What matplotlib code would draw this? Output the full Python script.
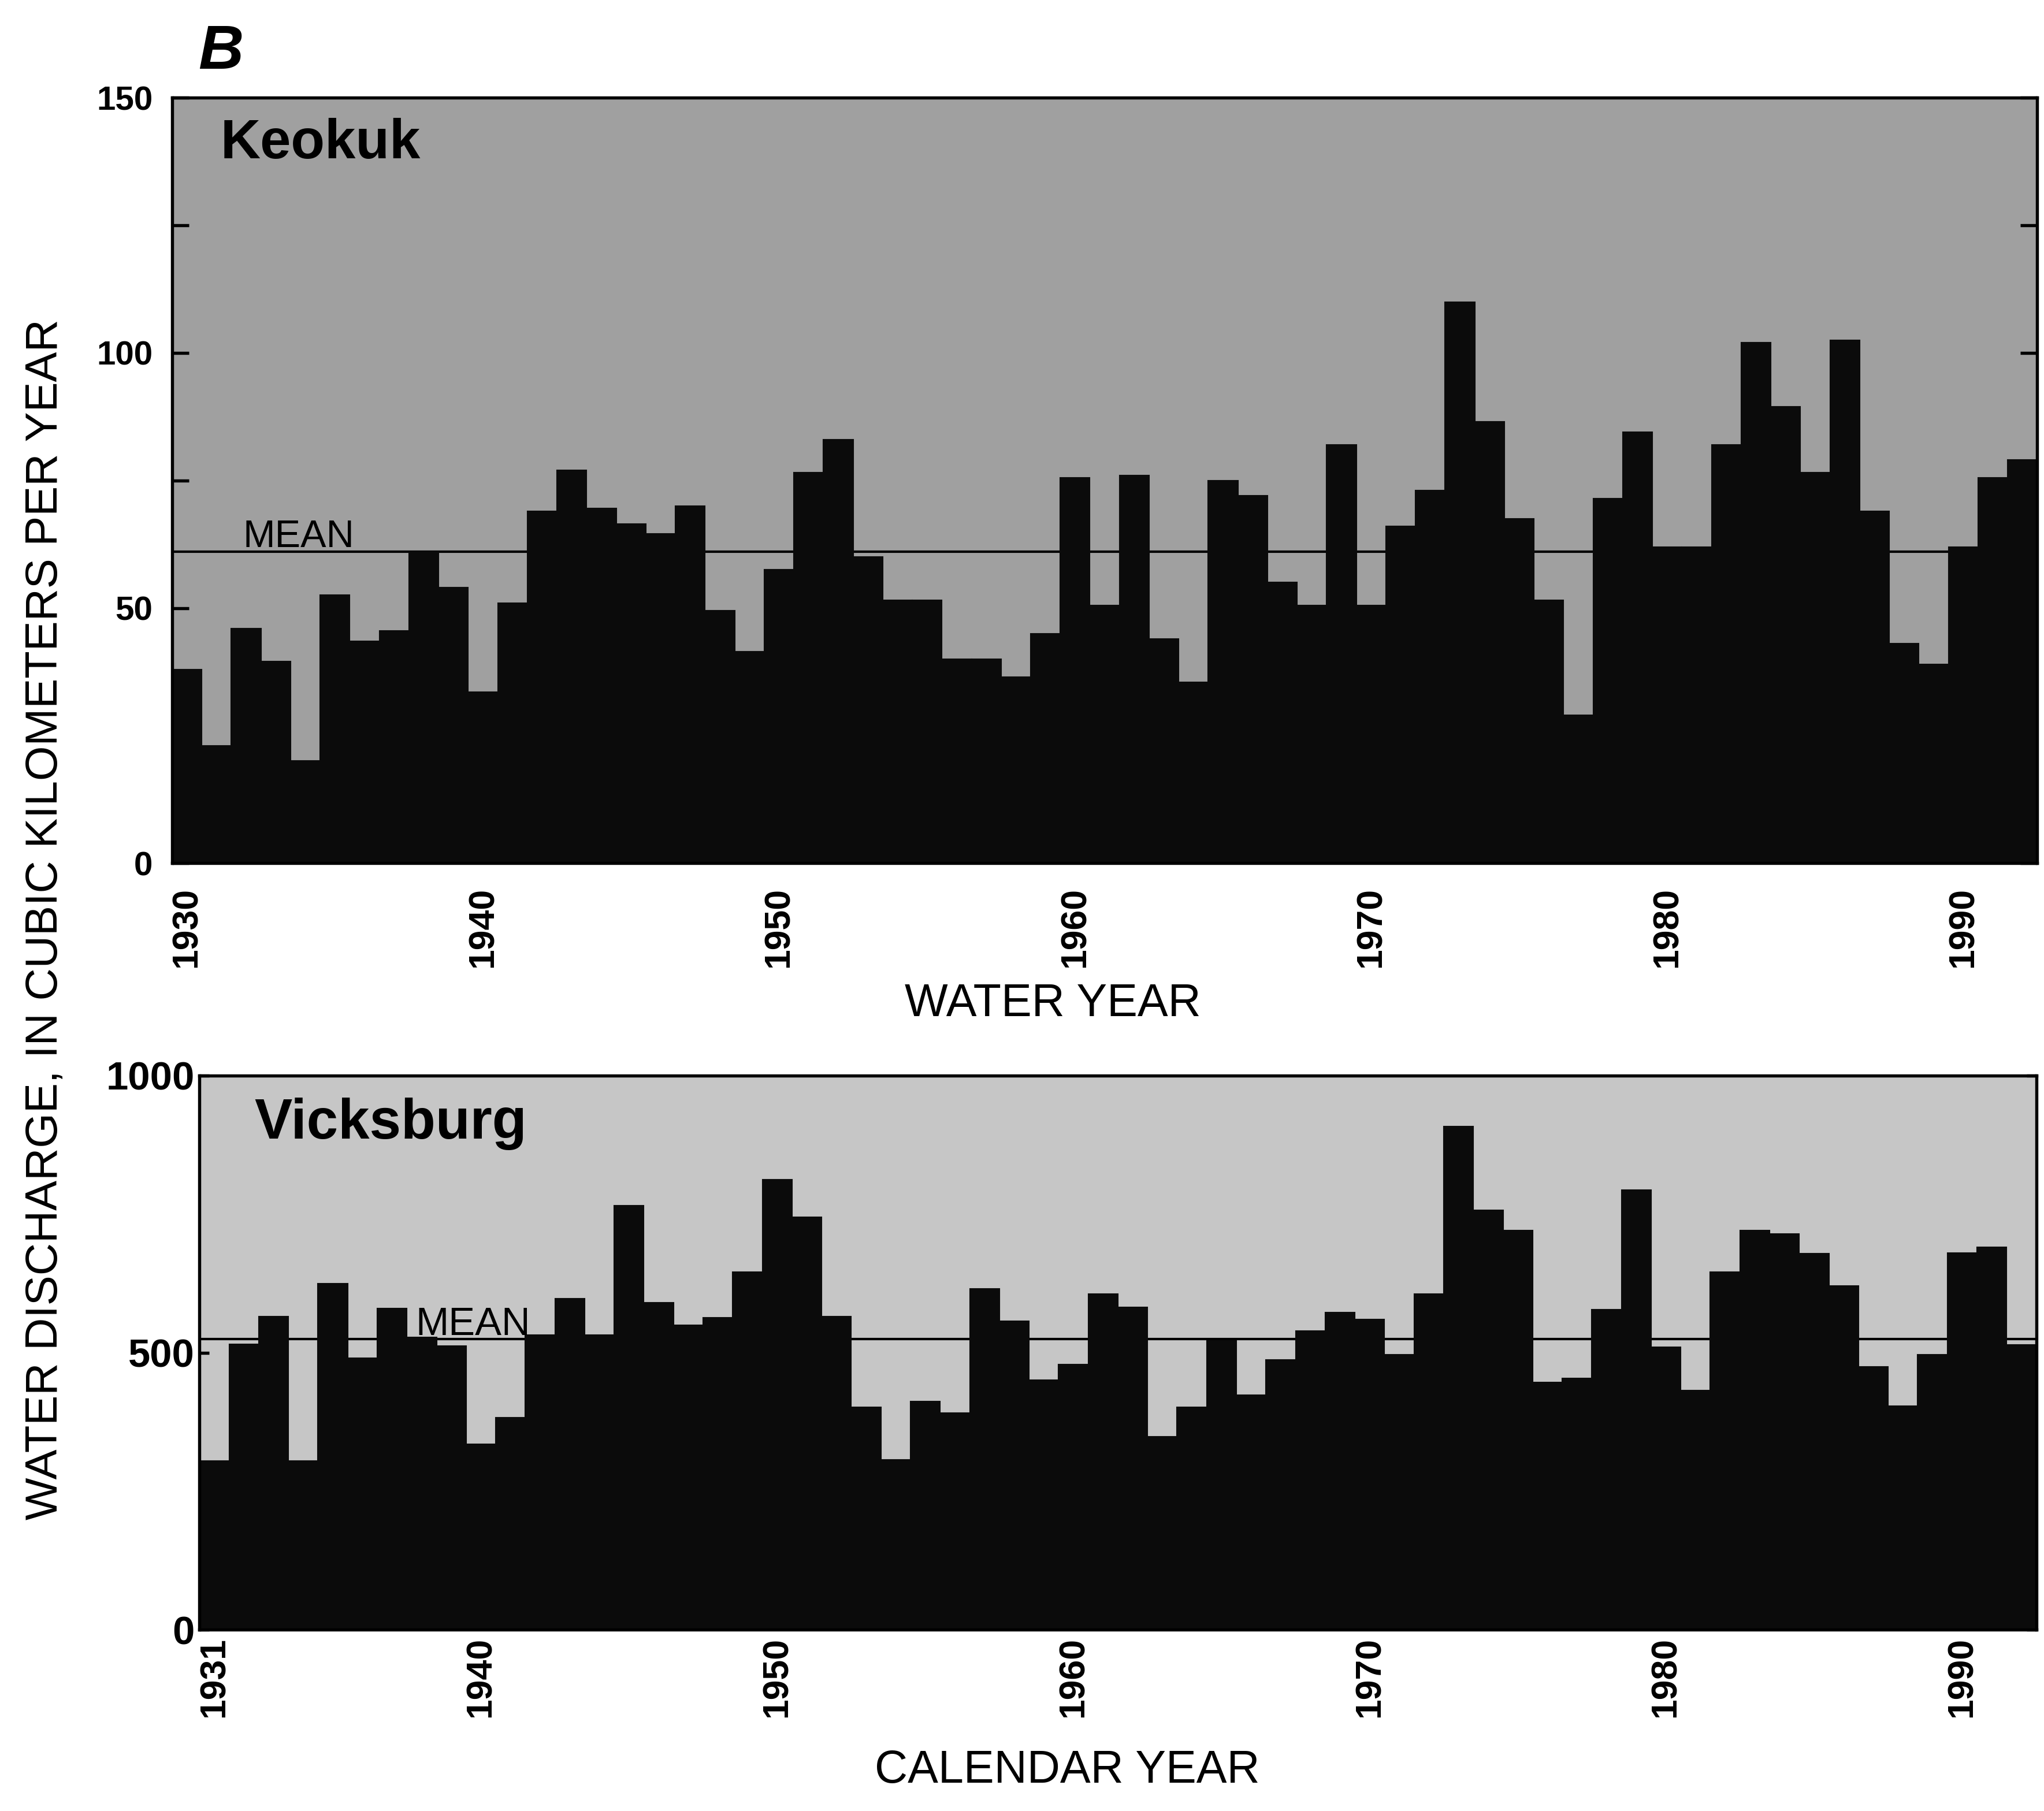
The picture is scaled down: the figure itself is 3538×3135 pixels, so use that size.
import matplotlib
matplotlib.use("Agg")
import matplotlib.pyplot as plt

plt.rcParams['font.family'] = ['Liberation Sans', 'DejaVu Sans']

# --- data ---
keokuk_years = list(range(1930, 1993))
keokuk_flow = [38, 23, 46, 39.5, 20, 52.5, 43.5, 45.5, 61, 54,
               33.5, 51, 69, 77, 69.5, 66.5, 64.5, 70, 49.5, 41.5,
               57.5, 76.5, 83, 60, 51.5, 51.5, 40, 40, 36.5, 45,
               75.5, 50.5, 76, 44, 35.5, 75, 72, 55, 50.5, 82,
               50.5, 66, 73, 110, 86.5, 67.5, 51.5, 29, 71.5, 84.5,
               62, 62, 82, 102, 89.5, 76.5, 102.5, 69, 43, 39,
               62, 75.5, 79]
keokuk_mean = 61

vicksburg_years = list(range(1931, 1993))
vicksburg_flow = [305, 515, 565, 305, 625, 490, 580, 528, 512,
                  335, 383, 532, 597, 532, 765, 590, 550, 563, 645,
                  812, 745, 565, 402, 307, 412, 391, 615, 557, 450,
                  479, 606, 582, 348, 402, 521, 423, 487, 539, 572,
                  560, 496, 606, 908, 757, 721, 446, 454, 578, 793,
                  510, 432, 645, 721, 714, 679, 620, 475, 404, 496,
                  680, 690, 514]
vicksburg_mean = 525

top_xticks = [1930, 1940, 1950, 1960, 1970, 1980, 1990]
bot_xticks = [1931, 1940, 1950, 1960, 1970, 1980, 1990]

BAR = '#0b0b0b'

fig = plt.figure(figsize=(3538 / 300, 3135 / 300), dpi=300)
ax1 = fig.add_axes([0.0842, 0.5234, 0.9125, 0.4226])
ax2 = fig.add_axes([0.0976, 0.1001, 0.8986, 0.3060])


def style(ax, face):
    ax.set_facecolor(face)
    for s in ax.spines.values():
        s.set_linewidth(1.3)
        s.set_color('black')
    ax.tick_params(axis='x', length=0, pad=10, labelsize=15, labelrotation=90)
    ax.tick_params(axis='y', which='both', direction='in', left=True, right=True,
                   labelsize=14, pad=8)
    ax.tick_params(axis='y', which='major', length=7, width=1.3)
    ax.tick_params(axis='y', which='minor', length=7, width=1.3)
    for lab in ax.get_xticklabels() + ax.get_yticklabels():
        lab.set_fontweight('bold')


# Keokuk
ax1.axhline(keokuk_mean, color='black', lw=1.0, zorder=1)
ax1.bar(keokuk_years, keokuk_flow, width=1.0, color=BAR, edgecolor=BAR,
        linewidth=0.5, zorder=2)
ax1.set_xlim(1929.5, 1992.5)
ax1.set_ylim(0, 150)
ax1.set_yticks([0, 50, 100, 150])
ax1.set_yticks([25, 75, 125], minor=True)
ax1.set_xticks(top_xticks)
ax1.set_xticklabels([str(t) for t in top_xticks])
style(ax1, '#a0a0a0')
ax1.text(0.026, 0.94, 'Keokuk', transform=ax1.transAxes, fontsize=23,
         fontweight='bold', ha='left', va='center', zorder=5)
ax1.text(1931.9, keokuk_mean + 0.9, 'MEAN', fontsize=16, ha='left',
         va='baseline', zorder=5)

# Vicksburg
ax2.axhline(vicksburg_mean, color='black', lw=1.0, zorder=1)
ax2.bar(vicksburg_years, vicksburg_flow, width=1.0, color=BAR, edgecolor=BAR,
        linewidth=0.5, zorder=2)
ax2.set_xlim(1930.5, 1992.5)
ax2.set_ylim(0, 1000)
ax2.set_yticks([0, 500, 1000])
ax2.set_xticks(bot_xticks)
ax2.set_xticklabels([str(t) for t in bot_xticks])
style(ax2, '#c6c6c6')
ax2.tick_params(axis='x', pad=3)
ax2.tick_params(axis='y', which='major', length=4, labelsize=16.5, pad=2)
ax2.text(0.03, 0.913, 'Vicksburg', transform=ax2.transAxes, fontsize=23.5,
         fontweight='bold', ha='left', va='center', zorder=5)
ax2.text(1937.8, vicksburg_mean + 7, 'MEAN', fontsize=16.5, ha='left',
         va='baseline', zorder=5)

# labels
fig.text(0.515, 0.4456, 'WATER YEAR', fontsize=19, ha='center', va='center')
fig.text(0.522, 0.0223, 'CALENDAR YEAR', fontsize=19, ha='center', va='center')
fig.text(0.0223, 0.4924, 'WATER DISCHARGE, IN CUBIC KILOMETERS PER YEAR',
         fontsize=18.7, rotation=90, ha='center', va='center')
fig.text(0.108, 0.971, 'B', fontsize=26, fontweight='bold', fontstyle='italic',
         ha='center', va='center')

fig.savefig('out.png', dpi=300, facecolor='white')
